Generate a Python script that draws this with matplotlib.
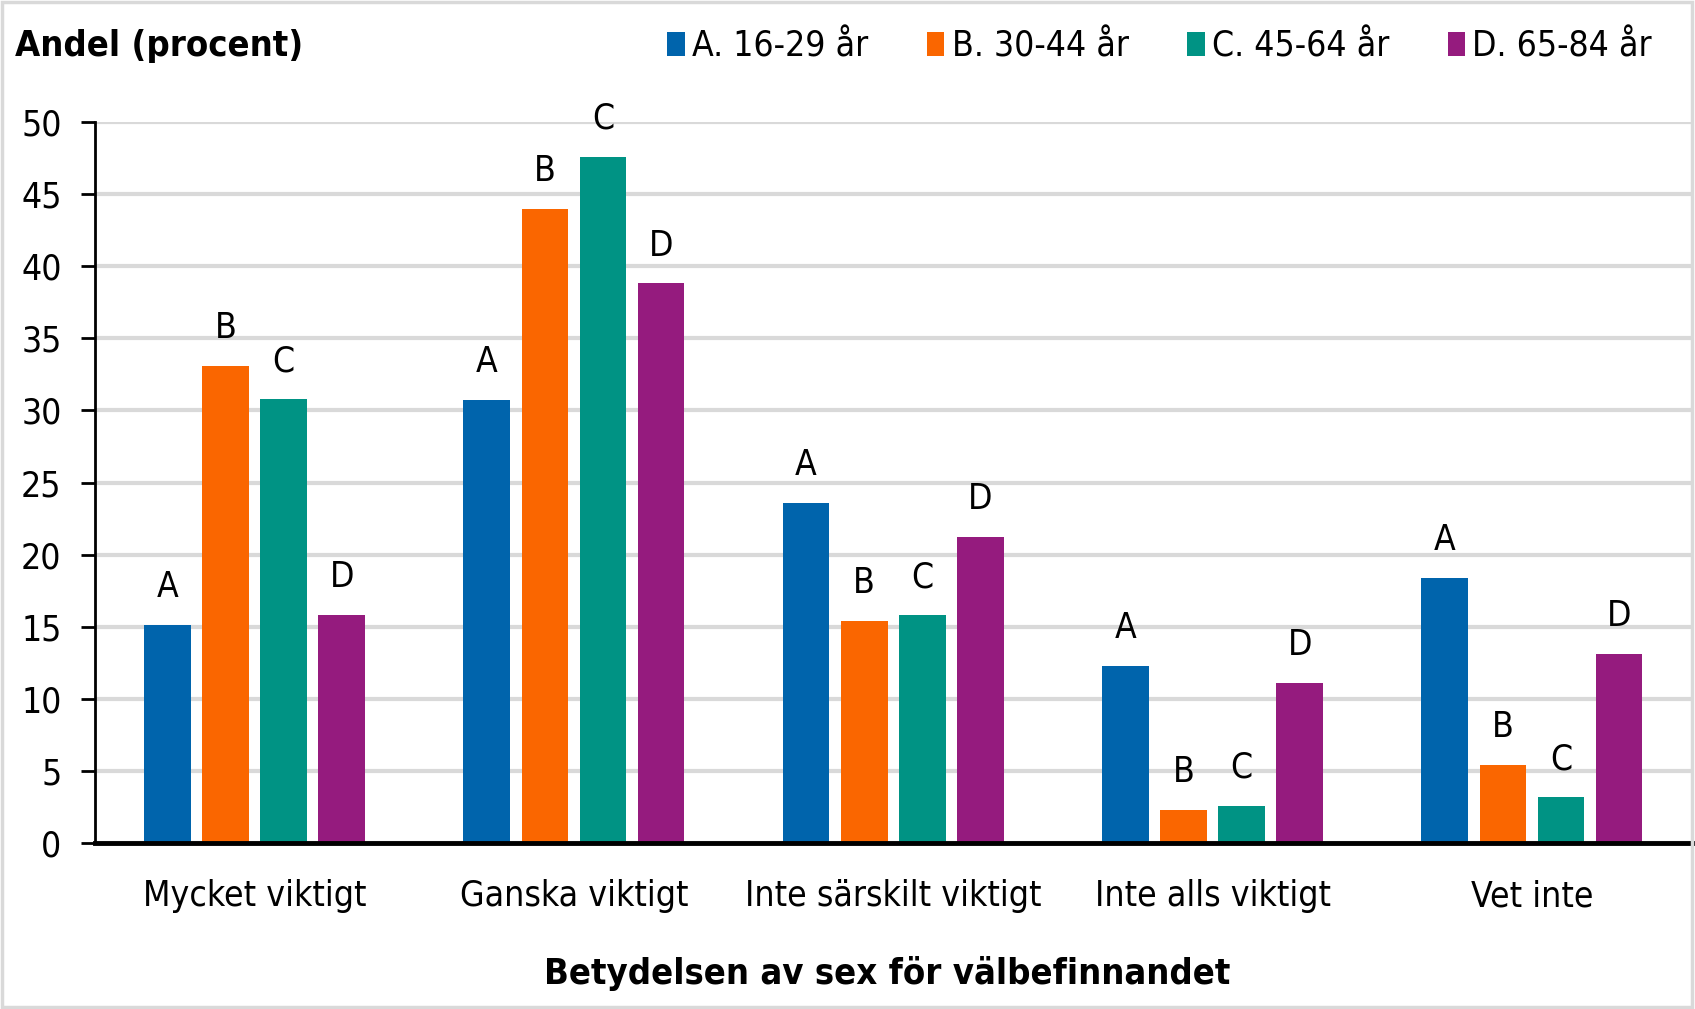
import numpy as np
import matplotlib
matplotlib.use('Agg')
import matplotlib.pyplot as plt
from matplotlib.patches import Rectangle

plt.rcParams['font.family'] = ['DejaVu Sans']
plt.rcParams['font.stretch'] = 'condensed'

categories = ['Mycket viktigt', 'Ganska viktigt', 'Inte särskilt viktigt',
              'Inte alls viktigt', 'Vet inte']
series_names = ['A. 16-29 år', 'B. 30-44 år', 'C. 45-64 år', 'D. 65-84 år']
bar_letters = ['A', 'B', 'C', 'D']
values_a = [15.1, 30.7, 23.6, 12.3, 18.4]
values_b = [33.1, 44.0, 15.4, 2.3, 5.4]
values_c = [30.8, 47.6, 15.8, 2.6, 3.2]
values_d = [15.8, 38.8, 21.2, 11.1, 13.1]
colors = ['#0064AC', '#FA6600', '#009384', '#951B7E']
yticks = [0, 5, 10, 15, 20, 25, 30, 35, 40, 45, 50]

fs = 25.5
fs_bold = 26.1

fig = plt.figure(figsize=(16.95, 10.09), dpi=100)
ax = fig.add_axes([0.056, 0.1645, 0.942, 0.7146])

x = np.arange(len(categories))
width = 0.146
step = 0.182
all_vals = [values_a, values_b, values_c, values_d]
for i, vals in enumerate(all_vals):
    offs = (i - 1.5) * step
    bars = ax.bar(x + offs, vals, width, color=colors[i], label=series_names[i], zorder=3)
    for b in bars:
        ax.annotate(bar_letters[i], (b.get_x() + b.get_width() / 2, b.get_height()),
                    xytext=(0, 15), textcoords='offset points',
                    ha='center', va='bottom', fontsize=fs)

ax.set_xlim(-0.5, 4.5)
ax.set_ylim(0, 50)
ax.set_yticks(yticks)
ax.set_xticks(x)
ax.set_xticklabels(categories, fontsize=fs)
ax.tick_params(axis='y', labelsize=fs, length=10, width=2, direction='out', pad=14)
ax.tick_params(axis='x', length=0, pad=26)
ax.yaxis.grid(True, color='#d9d9d9', linewidth=3, zorder=0)
ax.set_axisbelow(True)
for s in ['top', 'right']:
    ax.spines[s].set_visible(False)
ax.spines['left'].set_linewidth(2)
ax.spines['bottom'].set_linewidth(3.5)
ax.spines['bottom'].set_zorder(4)

ax.set_xlabel('Betydelsen av sex för välbefinnandet', fontsize=fs_bold, fontweight='bold')
ax.xaxis.set_label_coords(0.496, -0.156)
fig.text(0.009, 0.954, 'Andel (procent)', fontsize=fs_bold, fontweight='bold', ha='left', va='center')

fig.legend(loc='center right', bbox_to_anchor=(0.983, 0.954), ncol=4, frameon=False,
           fontsize=fs, handlelength=0.5, handleheight=0.65, handletextpad=0.2,
           columnspacing=1.65, borderaxespad=0)

fig.patches.append(Rectangle((0.001, 0.002), 0.997, 0.996, transform=fig.transFigure,
                             fill=False, edgecolor='#d9d9d9', linewidth=2.5))

fig.savefig('out.png', dpi=100)
